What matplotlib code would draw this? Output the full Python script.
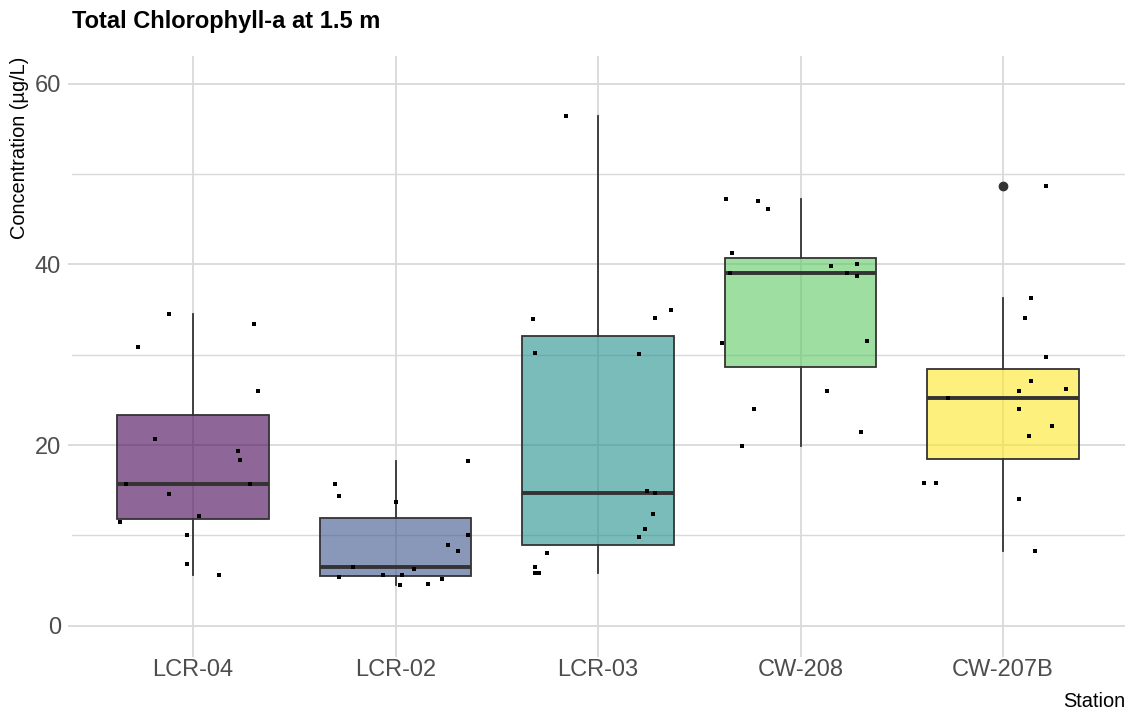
import matplotlib
matplotlib.use("Agg")
import matplotlib.pyplot as plt
import numpy as np

plt.rcParams["font.family"] = ["Liberation Sans", "DejaVu Sans"]

# stations in plotting order
stations = ["LCR-04", "LCR-02", "LCR-03", "CW-208", "CW-207B"]
fills = ["#440154", "#3B528B", "#21908C", "#5DC863", "#FDE725"]

# chlorophyll-a values (µg/L)
lcr04 = [34.5, 30.8, 33.4, 26.0, 20.7, 19.4, 18.3, 15.7, 15.7, 14.6, 12.2, 11.5, 10.1, 6.8, 5.6]
lcr02 = [18.2, 15.7, 14.4, 13.7, 10.1, 8.9, 8.3, 6.5, 6.3, 5.4, 5.6, 5.6, 5.2, 4.5, 4.6]
lcr03 = [56.4, 33.9, 34.1, 34.9, 30.2, 30.1, 14.9, 14.75, 12.4, 10.7, 9.8, 8.1, 6.5, 5.9, 5.9]
cw208 = [47.2, 47.0, 46.1, 41.3, 39.8, 40.0, 39.08, 39.08, 38.7, 31.3, 31.5, 26.0, 24.0, 21.4, 19.9]
cw207b = [48.7, 36.3, 34.1, 29.7, 27.1, 26.0, 26.2, 25.26, 24.0, 22.1, 21.0, 15.85, 15.85, 14.0, 8.3]

# horizontal jitter of each point (fraction of a category step)
jit04 = [-0.12, -0.27, 0.30, 0.32, -0.19, 0.22, 0.23, -0.33, 0.28, -0.12, 0.03, -0.36, -0.03, -0.03, 0.13]
jit02 = [0.36, -0.30, -0.28, 0.00, 0.36, 0.26, 0.31, -0.21, 0.09, -0.28, -0.06, 0.03, 0.23, 0.02, 0.16]
jit03 = [-0.16, -0.32, 0.28, 0.36, -0.31, 0.20, 0.24, 0.28, 0.27, 0.23, 0.20, -0.25, -0.31, -0.31, -0.29]
jit208 = [-0.37, -0.21, -0.16, -0.34, 0.15, 0.28, -0.35, 0.23, 0.28, -0.39, 0.33, 0.13, -0.23, 0.30, -0.29]
jit207 = [0.21, 0.14, 0.11, 0.21, 0.14, 0.08, 0.31, -0.27, 0.08, 0.24, 0.13, -0.39, -0.33, 0.08, 0.16]

values = [lcr04, lcr02, lcr03, cw208, cw207b]
jitters = [jit04, jit02, jit03, jit208, jit207]

W, H = 1130, 711
fig = plt.figure(figsize=(W / 100, H / 100), dpi=100)
ax = fig.add_axes([71.5 / W, (H - 653) / H, (1124.5 - 71.5) / W, (653 - 56.4) / H])

pos = np.arange(1, len(stations) + 1)
bp = ax.boxplot(values, positions=pos, widths=0.75, patch_artist=True, whis=1.5,
                showcaps=False, zorder=3,
                boxprops=dict(edgecolor="#333333", linewidth=1.3),
                whiskerprops=dict(color="#333333", linewidth=1.3),
                medianprops=dict(color="#333333", linewidth=2.8),
                flierprops=dict(marker="o", markerfacecolor="#333333",
                                markeredgecolor="#333333", markersize=6))
for patch, c in zip(bp["boxes"], fills):
    patch.set_facecolor(matplotlib.colors.to_rgba(c, 0.6))

for p, v, j in zip(pos, values, jitters):
    ax.scatter(p + np.array(j), v, s=5, marker="s", color="black", lw=0, zorder=4)

ax.set_xlim(0.4, 5.6)
ax.set_ylim(-3, 63)
ax.set_xticks(pos)
ax.set_xticklabels(stations)
ax.set_yticks([0, 20, 40, 60])
ax.set_yticks([10, 30, 50], minor=True)
ax.grid(True, which="major", color="#D9D9D9", lw=1.3, zorder=0)
ax.grid(True, which="minor", axis="y", color="#D9D9D9", lw=1.0, zorder=0)
ax.set_axisbelow(True)
for s in ax.spines.values():
    s.set_visible(False)
ax.tick_params(axis="both", which="major", labelsize=17, labelcolor="#4D4D4D",
               color="#D9D9D9", width=1.3, length=3)
ax.tick_params(axis="x", pad=1)
ax.tick_params(axis="y", pad=4.5)
ax.tick_params(which="minor", length=0)

fig.text(71.5 / W, 1 - 28 / H, "Total Chlorophyll-a at 1.5 m", fontsize=17,
         fontweight="bold", ha="left", va="baseline")
fig.text(20 / W, 1 - 57 / H, "Concentration (µg/L)", fontsize=14.4, rotation=90,
         ha="center", va="top")
fig.text(1125 / W, 1 - 707 / H, "Station", fontsize=14.4, ha="right", va="baseline")

fig.savefig("out.png", dpi=100)
